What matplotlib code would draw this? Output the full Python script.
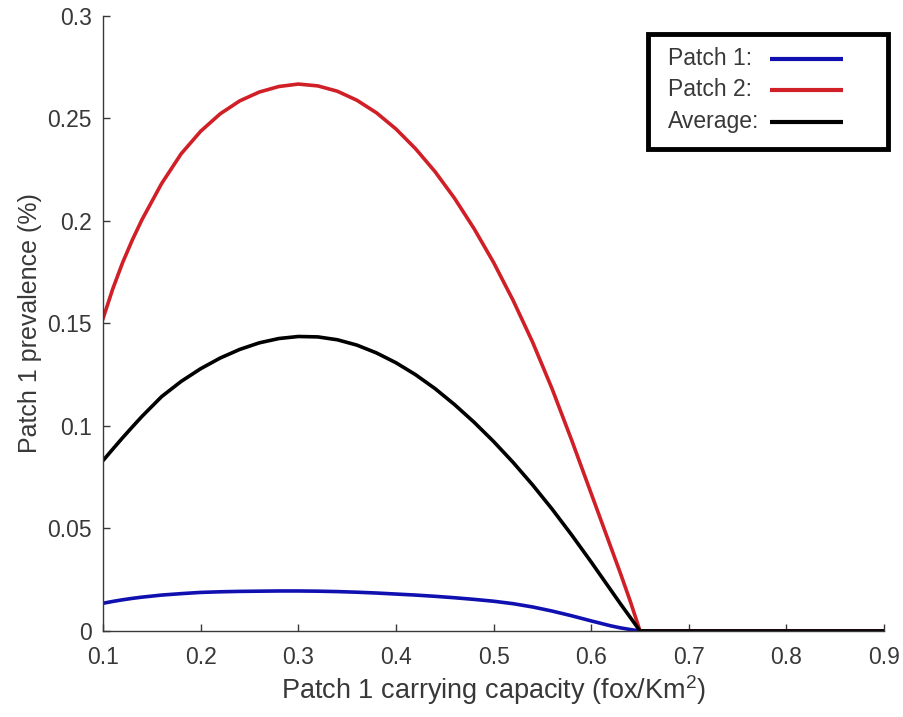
import matplotlib
matplotlib.use("Agg")
from matplotlib import pyplot as plt
from matplotlib.patches import Rectangle

plt.rcParams["font.family"] = ["Liberation Sans", "DejaVu Sans"]
plt.rcParams["mathtext.fontset"] = "custom"
plt.rcParams["mathtext.rm"] = "Liberation Sans"
plt.rcParams["mathtext.it"] = "Liberation Sans:italic"

# carrying capacity of patch 1 (x axis)
capacity = [0.10, 0.11, 0.12, 0.13, 0.14, 0.16, 0.18, 0.20, 0.22, 0.24,
            0.26, 0.28, 0.30, 0.32, 0.34, 0.36, 0.38, 0.40, 0.42, 0.44,
            0.46, 0.48, 0.50, 0.52, 0.54, 0.56, 0.58, 0.60, 0.62, 0.63,
            0.64, 0.65, 0.70, 0.80, 0.90]

patch1 = [0.0135, 0.0144, 0.0152, 0.0159, 0.0165, 0.0175, 0.0182, 0.0188, 0.0191, 0.0193,
          0.0194, 0.0195, 0.0195, 0.0194, 0.0192, 0.0189, 0.0185, 0.0180, 0.0175, 0.0169,
          0.0162, 0.0154, 0.0145, 0.0133, 0.0117, 0.0097, 0.0074, 0.0049, 0.0025, 0.0015,
          0.0007, 0.0, 0.0, 0.0, 0.0]

patch2 = [0.1524, 0.1669, 0.1796, 0.1907, 0.2007, 0.2182, 0.2327, 0.2437, 0.2522, 0.2585,
          0.2628, 0.2655, 0.2667, 0.2658, 0.2632, 0.2588, 0.2527, 0.2448, 0.2352, 0.2240,
          0.2110, 0.1962, 0.1797, 0.1612, 0.1408, 0.1180, 0.0930, 0.0670, 0.0410, 0.0280,
          0.0145, 0.0, 0.0, 0.0, 0.0]

average = [0.0831, 0.0887, 0.0942, 0.0995, 0.1047, 0.1143, 0.1217, 0.1279, 0.1331, 0.1373,
           0.1405, 0.1426, 0.1436, 0.1434, 0.1420, 0.1394, 0.1356, 0.1308, 0.1250, 0.1182,
           0.1104, 0.1018, 0.0924, 0.0822, 0.0712, 0.0594, 0.0468, 0.0336, 0.0200, 0.0132,
           0.0066, 0.0, 0.0, 0.0, 0.0]

labels = ["Patch 1:", "Patch 2:", "Average:"]
colors = ["#1010b0", "#d01f26", "black"]

xticks = [0.1, 0.2, 0.3, 0.4, 0.5, 0.6, 0.7, 0.8, 0.9]
yticks = [0, 0.05, 0.1, 0.15, 0.2, 0.25, 0.3]
ytick_labels = ["0", "0.05", "0.1", "0.15", "0.2", "0.25", "0.3"]

txt = "#383838"

fig = plt.figure(figsize=(9.04, 7.17), dpi=100)
ax = fig.add_axes([0.114, 0.12, 0.864, 0.858])

for ys, c in zip([patch1, patch2, average], colors):
    ax.plot(capacity, ys, color=c, lw=2.6, solid_joinstyle="round")

ax.set_xlim(0.1, 0.9)
ax.set_ylim(0, 0.3)
ax.set_xticks(xticks)
ax.set_xticklabels([str(v) for v in xticks])
ax.set_yticks(yticks)
ax.set_yticklabels(ytick_labels)

ax.spines["top"].set_visible(False)
ax.spines["right"].set_visible(False)
for s in ["left", "bottom"]:
    ax.spines[s].set_color(txt)
    ax.spines[s].set_linewidth(1.0)

ax.tick_params(direction="in", length=5, width=1, colors=txt, labelsize=16.5)
ax.tick_params(axis="x", pad=11)
ax.tick_params(axis="y", pad=8)

ax.set_xlabel(r"Patch 1 carrying capacity (fox/Km$^{2}$)", fontsize=19.5, color=txt, labelpad=2.5)
ax.set_ylabel("Patch 1 prevalence (%)", fontsize=18, color=txt, labelpad=4)

# legend drawn by hand: label text first, line sample after it
ax.add_patch(Rectangle((0.698, 0.7835), 0.307, 0.1865, transform=ax.transAxes,
                       facecolor="white", edgecolor="black", lw=3.5, clip_on=False, zorder=5))
row_gap = 0.0512
for i, (lab, c) in enumerate(zip(labels, colors)):
    yb = 0.920 - i * row_gap
    ax.text(0.7234, yb, lab, transform=ax.transAxes, fontsize=16.5, color=txt,
            va="baseline", ha="left", zorder=6)
    ax.plot([0.854, 0.9475], [yb + 0.0098, yb + 0.0098], transform=ax.transAxes,
            color=c, lw=3.0, solid_capstyle="butt", clip_on=False, zorder=6)

fig.savefig("out.png", dpi=100, facecolor="white")
